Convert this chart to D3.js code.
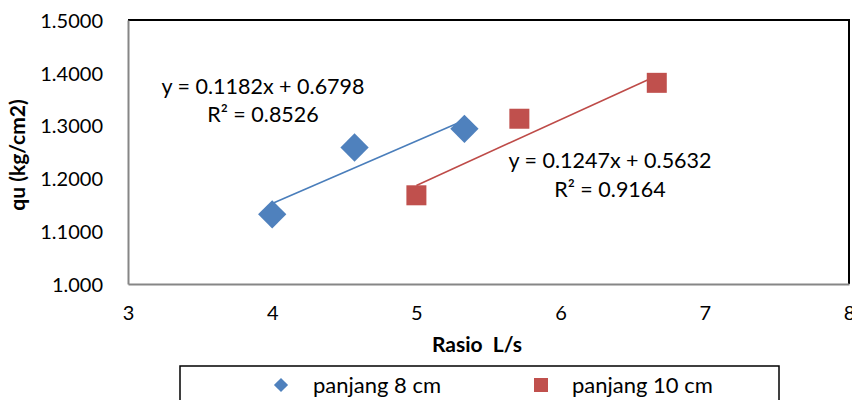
<!DOCTYPE html>
<html lang="en">
<head>
<meta charset="UTF-8">
<title>qu vs Rasio L/s</title>
<script src="https://d3js.org/d3.v7.min.js"></script>
<style>
  body { margin: 0; background: #fff; }
  text { font-family: Lato, "Open Sans", sans-serif; fill: #000; }
</style>
</head>
<body>
<div id="chart"></div>
<script>
// data
const x8 = [4, 4.571, 5.333];
const y8 = [1.132, 1.2585, 1.294];
const x10 = [5, 5.714, 6.667];
const y10 = [1.168, 1.313, 1.381];
// trendline coefficients as printed on the chart
const fit8 = { slope: 0.1182, intercept: 0.6798, r2: "0.8526" };
const fit10 = { slope: 0.1247, intercept: 0.5632, r2: "0.9164" };
const xTicks = [3, 4, 5, 6, 7, 8];
const yTicks = [1.0, 1.1, 1.2, 1.3, 1.4, 1.5];
const seriesNames = ["panjang 8 cm", "panjang 10 cm"];

const W = 852, H = 400;
const blue = "#4F81BD", red = "#C0504D";

const svg = d3.select("#chart").append("svg")
  .attr("width", W).attr("height", H);

const x = d3.scaleLinear().domain([3, 8]).range([128, 849]);
const y = d3.scaleLinear().domain([1.0, 1.5]).range([284, 20]);

// frame: black on top/right, grey axes left/bottom
svg.append("path")
  .attr("d", `M${x(3)},${y(1.5)}H${x(8)}V${y(1.0)}`)
  .attr("fill", "none").attr("stroke", "#000").attr("stroke-width", 2);

const xAxis = svg.append("g")
  .attr("transform", `translate(0,${y(1.0)})`)
  .call(d3.axisBottom(x).tickValues(xTicks).tickSize(0).tickPadding(24).tickFormat(d3.format("d")));
const yAxis = svg.append("g")
  .attr("transform", `translate(${x(3)},0)`)
  .call(d3.axisLeft(y).tickValues(yTicks).tickSize(0).tickPadding(25)
    .tickFormat(d => d === 1 ? "1.000" : d3.format(".4f")(d)));
[xAxis, yAxis].forEach(g => {
  g.select(".domain").attr("stroke", "#868686").attr("stroke-width", 2);
  g.selectAll("text").style("font-size", "20px").style("font-family", "Lato, sans-serif").attr("fill", "#000");
});
xAxis.selectAll("text").attr("dy", "0.6em");
yAxis.selectAll("text").attr("dy", "0.36em");

// trend lines
function trend(xs, fit, color) {
  const ext = d3.extent(xs);
  svg.append("line")
    .attr("x1", x(ext[0])).attr("y1", y(fit.slope * ext[0] + fit.intercept))
    .attr("x2", x(ext[1])).attr("y2", y(fit.slope * ext[1] + fit.intercept))
    .attr("stroke", color).attr("stroke-width", 1.6);
}
trend(x8, fit8, "#4A7EBB");
trend(x10, fit10, "#BE4B48");

// markers
const diamond = d3.symbol().type(d3.symbolSquare).size(400);
svg.selectAll(".pt8").data(x8).enter().append("path")
  .attr("class", "pt8")
  .attr("d", diamond)
  .attr("transform", (d, i) => `translate(${x(d)},${y(y8[i])}) rotate(45)`)
  .attr("fill", blue);

svg.selectAll(".pt10").data(x10).enter().append("rect")
  .attr("class", "pt10")
  .attr("x", d => x(d) - 10).attr("y", (d, i) => y(y10[i]) - 10)
  .attr("width", 20).attr("height", 20)
  .attr("fill", red);

// equation labels
function eqLabel(fit, cx, y1, y2) {
  const t = svg.append("text").attr("text-anchor", "middle").style("font-size", "21.5px");
  t.append("tspan").attr("x", cx).attr("y", y1)
    .text(`y = ${fit.slope.toFixed(4)}x + ${fit.intercept.toFixed(4)}`);
  t.append("tspan").attr("x", cx).attr("y", y2)
    .text(`R² = ${fit.r2}`);
}
eqLabel(fit8, 263, 94, 122);
eqLabel(fit10, 610, 168, 197);

// axis titles
svg.append("text")
  .attr("transform", "translate(25,155) rotate(-90)")
  .attr("text-anchor", "middle")
  .style("font-size", "21px").style("font-weight", "bold")
  .text("qu (kg/cm2)");
svg.append("text")
  .attr("x", 477).attr("y", 352)
  .attr("text-anchor", "middle")
  .style("font-size", "21px").style("font-weight", "bold")
  .style("white-space", "pre")
  .text("Rasio  L/s");

// legend
svg.append("rect")
  .attr("x", 180).attr("y", 366).attr("width", 599).attr("height", 50)
  .attr("fill", "none").attr("stroke", "#000").attr("stroke-width", 1.5);
svg.append("path")
  .attr("d", d3.symbol().type(d3.symbolSquare).size(100))
  .attr("transform", "translate(281,385) rotate(45)")
  .attr("fill", blue);
svg.append("text").attr("x", 313).attr("y", 393).style("font-size", "22px").text(seriesNames[0]);
svg.append("rect").attr("x", 534).attr("y", 378).attr("width", 14).attr("height", 14).attr("fill", red);
svg.append("text").attr("x", 572).attr("y", 393).style("font-size", "22px").text(seriesNames[1]);
</script>
</body>
</html>
